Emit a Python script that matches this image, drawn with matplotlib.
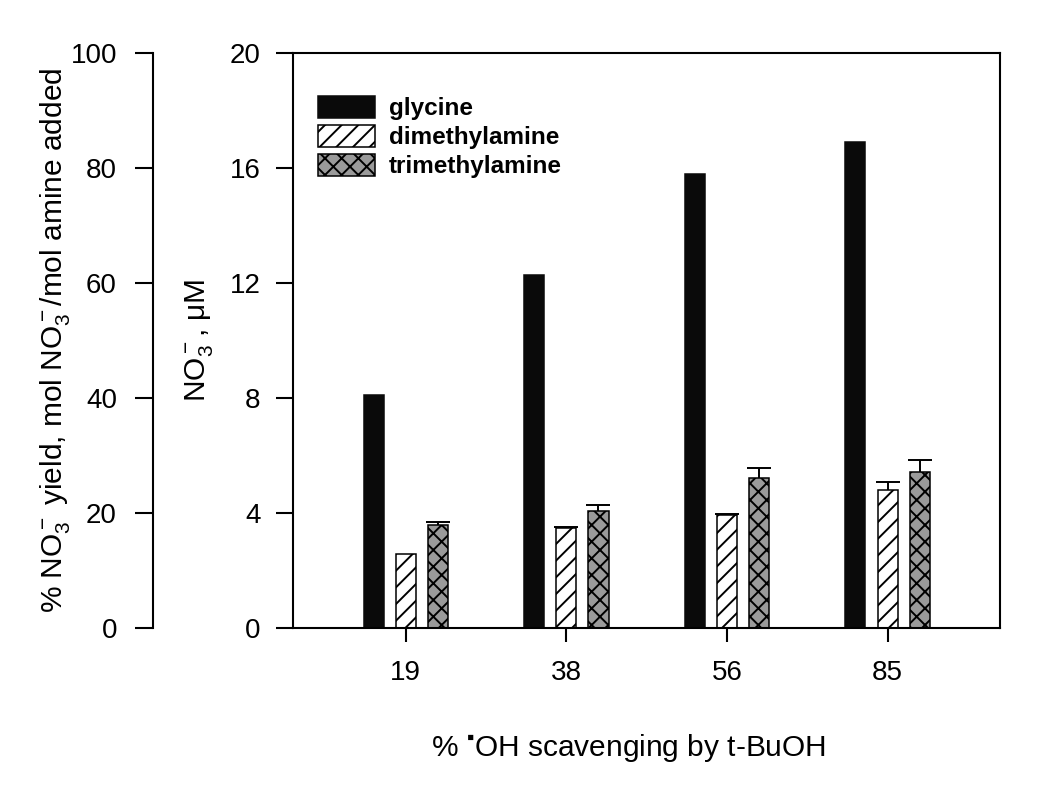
import numpy as np
import matplotlib
matplotlib.use("Agg")
import matplotlib.pyplot as plt

plt.rcParams['font.family'] = ['Liberation Sans', 'DejaVu Sans']
plt.rcParams['mathtext.fontset'] = 'custom'
plt.rcParams['mathtext.rm'] = 'Liberation Sans'
plt.rcParams['mathtext.it'] = 'Liberation Sans:italic'
plt.rcParams['mathtext.bf'] = 'Liberation Sans:bold'
plt.rcParams['hatch.linewidth'] = 1.4

# data
scavenging = ["19", "38", "56", "85"]
glycine = [8.09, 12.29, 15.78, 16.92]
dimethylamine = [2.56, 3.48, 3.94, 4.79]
trimethylamine = [3.60, 4.07, 5.23, 5.41]
dimethylamine_err = [np.nan, 0.03, 0.03, 0.29]
trimethylamine_err = [0.09, 0.22, 0.32, 0.43]

W, H = 1047, 793
fig = plt.figure(figsize=(W / 100, H / 100), dpi=100)

left, right, top, bottom = 292.5, 1000, 53, 628
ax = fig.add_axes([left / W, 1 - bottom / H, (right - left) / W, (bottom - top) / H])

x = np.arange(len(scavenging))
w = 0.125
off = 0.2

ax.bar(x - off, glycine, w, color='#0a0a0a', edgecolor='#0a0a0a', linewidth=1.1,
       label='glycine', zorder=2)
ax.bar(x, dimethylamine, w, color='white', edgecolor='black', hatch='//', linewidth=1.1,
       label='dimethylamine', zorder=2)
ax.bar(x + off, trimethylamine, w, color='#9a9a9a', edgecolor='black', hatch='xx', linewidth=1.1,
       label='trimethylamine', zorder=2)

# upper error bars only
for xs, vals, errs in [(x, dimethylamine, dimethylamine_err), (x + off, trimethylamine, trimethylamine_err)]:
    eb = ax.errorbar(xs, vals, yerr=[np.zeros(len(vals)), errs], fmt='none', ecolor='black',
                     elinewidth=1.4, capsize=8.3, capthick=1.4, zorder=3)
    eb.lines[1][0].set_visible(False)

ax.set_xlim(-0.705, 3.70)
ax.set_ylim(0, 20)
ax.set_yticks([0, 4, 8, 12, 16, 20])
ax.set_xticks(x)
ax.set_xticklabels(scavenging)
for s in ax.spines.values():
    s.set_linewidth(1.5)
ax.tick_params(axis='x', direction='out', length=10, width=1.5, labelsize=20, pad=13)
ax.tick_params(axis='y', direction='out', length=12, width=1.5, labelsize=20, pad=11)

ax.set_ylabel(r'NO$_3^-$, μM', fontsize=21.5, va='center')
ax.yaxis.set_label_coords((199 - left) / (right - left), 0.5)
ax.set_xlabel('% $^{▪}$OH scavenging by t-BuOH', fontsize=21.5, va='center')
ax.xaxis.set_label_coords((628.5 - left) / (right - left), (bottom - 748) / (bottom - top))

leg = ax.legend(loc='upper left', bbox_to_anchor=(318 / W, 1 - 96 / H),
                bbox_transform=fig.transFigure, frameon=False, borderpad=0, borderaxespad=0,
                handlelength=2.35, handleheight=1.0, handletextpad=0.58,
                labelspacing=0.2, prop={'weight': 'bold', 'size': 17.5})

# left percentage yield axis
ax2 = fig.add_axes([153 / W, 1 - bottom / H, 0.0001, (bottom - top) / H])
ax2.set_ylim(0, 100)
ax2.set_yticks([0, 20, 40, 60, 80, 100])
ax2.set_xticks([])
for k in ['top', 'right', 'bottom']:
    ax2.spines[k].set_visible(False)
ax2.spines['left'].set_linewidth(1.5)
ax2.patch.set_visible(False)
ax2.tick_params(axis='y', direction='out', length=13, width=1.5, labelsize=20, pad=13)
ax2.set_ylabel(r'% NO$_3^-$ yield, mol NO$_3^-$/mol amine added', fontsize=21.5, va='center')
ax2.yaxis.set_label_coords(-(153 - 55) / W / 0.0001, 0.5)

fig.savefig('out.png', dpi=100)
